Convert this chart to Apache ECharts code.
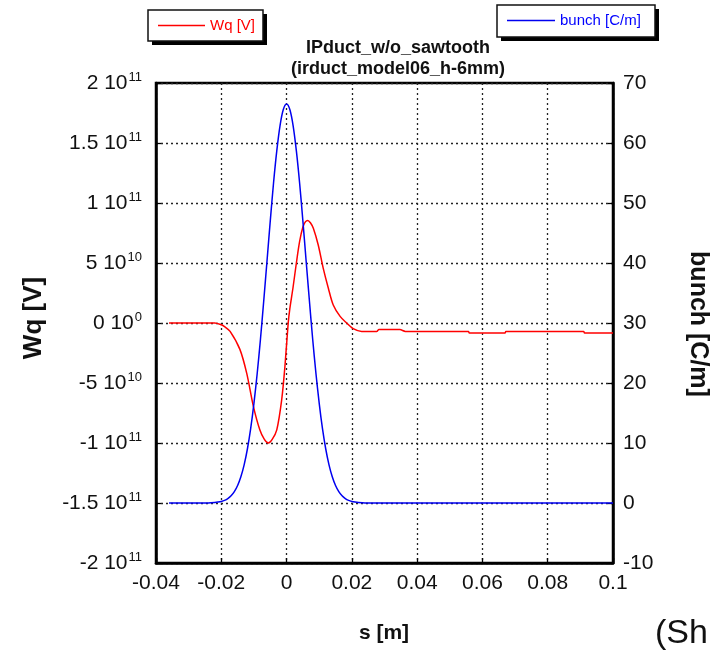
<!DOCTYPE html>
<html>
<head>
<meta charset="utf-8">
<script src="https://cdn.jsdelivr.net/npm/echarts@6/dist/echarts.min.js"></script>
<style>
html,body{margin:0;padding:0;background:#fff;}
#chart{width:718px;height:653px;}
</style>
</head>
<body>
<div id="chart"></div>
<script>
// ---- data ----
const seriesNames = ['Wq [V]', 'bunch [C/m]'];
// wake potential Wq [V] vs s [m]
const wqS = [-0.036, -0.022, -0.020, -0.019, -0.0173, -0.0143, -0.0122, -0.0102, -0.0082, -0.0068, -0.0056, -0.0044, -0.0030, -0.0015, -0.0005,
  0.0005, 0.0010, 0.0020, 0.0030, 0.0040, 0.0050, 0.0058, 0.0065, 0.0073, 0.0082, 0.0097, 0.0112, 0.0128, 0.0143, 0.0164, 0.0184, 0.0204,
  0.0230, 0.0276, 0.0283, 0.0347, 0.0364, 0.0557, 0.0560, 0.0669, 0.0672, 0.0910, 0.0913, 0.1000];
const wqV = [0, 0, -0.15e10, -0.3e10, -0.7e10, -2.2e10, -4.2e10, -6.9e10, -8.9e10, -9.7e10, -10.0e10, -9.7e10, -8.9e10, -6.4e10, -3.6e10,
  0, 1.2e10, 3.0e10, 5.0e10, 6.8e10, 8.0e10, 8.45e10, 8.55e10, 8.35e10, 7.9e10, 6.5e10, 4.6e10, 2.9e10, 1.5e10, 0.55e10, 0, -0.47e10,
  -0.7e10, -0.7e10, -0.55e10, -0.55e10, -0.7e10, -0.7e10, -0.83e10, -0.83e10, -0.7e10, -0.7e10, -0.83e10, -0.83e10];
// bunch line density [C/m] vs s [m]
const bunchS = [-0.036, -0.024, -0.022, -0.021, -0.020, -0.019, -0.018, -0.017, -0.016, -0.015, -0.014, -0.013, -0.012, -0.011, -0.010,
  -0.009, -0.008, -0.007, -0.006, -0.005, -0.004, -0.003, -0.002, -0.001, 0, 0.001, 0.002, 0.003, 0.004, 0.005, 0.006, 0.007, 0.008,
  0.009, 0.010, 0.011, 0.012, 0.013, 0.014, 0.015, 0.016, 0.017, 0.018, 0.019, 0.020, 0.021, 0.022, 0.024, 0.100];
const bunchV = [0, 0.02, 0.08, 0.15, 0.26, 0.44, 0.74, 1.20, 1.90, 2.92, 4.37, 6.36, 9.0, 12.38, 16.6,
  21.59, 27.3, 33.66, 40.3, 46.98, 53.3, 58.68, 62.9, 65.57, 66.49, 65.57, 62.9, 58.68, 53.3, 46.98, 40.3, 33.66, 27.3,
  21.59, 16.6, 12.38, 9.0, 6.36, 4.37, 2.92, 1.90, 1.20, 0.74, 0.44, 0.26, 0.15, 0.08, 0.02, 0];
// tick labels
const xTickLabels = ['-0.04', '-0.02', '0', '0.02', '0.04', '0.06', '0.08', '0.1'];
const wqTickMantissa = ['-2', '-1.5', '-1', '-5', '0', '5', '1', '1.5', '2'];
const wqTickExponent = ['11', '11', '11', '10', '0', '10', '11', '11', '11'];
const bunchTickLabels = ['-10', '0', '10', '20', '30', '40', '50', '60', '70'];
const titleLines = ['IPduct_w/o_sawtooth', '(irduct_model06_h-6mm)'];
const axisNames = { x: 's [m]', left: 'Wq [V]', right: 'bunch [C/m]' };
const cornerText = '(Sh';

// ---- chart ----
const FONT = '"Liberation Sans", Arial, Helvetica, sans-serif';
const chart = echarts.init(document.getElementById('chart'), null, { renderer: 'canvas' });
const xMin = -0.04, xMax = 0.1, xInt = 0.02;
const yMin = -2e11, yMax = 2e11, yInt = 5e10;
const y2Min = -10, y2Max = 70, y2Int = 10;

const gridDash = { color: '#222', width: 1.3, type: [2, 3] };
const legendCommon = {
  icon: 'rect', itemHeight: 1.5, backgroundColor: 'transparent', borderWidth: 0,
  selectedMode: false, z: 10
};
// legend frames (box + drop shadow)
function legendFrame(x, y, w, h) {
  return [
    { type: 'rect', z: 1, shape: { x: x + 4, y: y + 4, width: w, height: h }, style: { fill: '#000' } },
    { type: 'rect', z: 2, shape: { x: x, y: y, width: w, height: h }, style: { fill: '#fff', stroke: '#111', lineWidth: 1.5 } }
  ];
}

chart.setOption({
  animation: false,
  backgroundColor: '#fff',
  title: {
    text: titleLines.join('\n'),
    left: 393, top: 33, textAlign: 'center',
    textStyle: { fontFamily: FONT, fontSize: 18, fontWeight: 'bold', color: '#111', lineHeight: 21 }
  },
  legend: [
    Object.assign({}, legendCommon, {
      data: [seriesNames[0]], left: 148, top: 10, itemWidth: 47, padding: [8, 9, 8, 10],
      textStyle: { color: '#f00', fontSize: 15, fontFamily: FONT }
    }),
    Object.assign({}, legendCommon, {
      data: [seriesNames[1]], left: 497, top: 5, itemWidth: 48, padding: [8, 10, 8, 10],
      textStyle: { color: '#00f', fontSize: 15, fontFamily: FONT }
    })
  ],
  grid: { left: 156, right: 105, top: 83, bottom: 90, show: true, borderColor: '#000', borderWidth: 2.5, backgroundColor: 'transparent' },
  xAxis: {
    type: 'value', min: xMin, max: xMax, interval: xInt,
    axisLine: { show: true, onZero: false, lineStyle: { color: '#000', width: 2.5 } },
    axisTick: { show: true, inside: true, length: 5, lineStyle: { color: '#000', width: 1.3 } },
    splitLine: { show: true, lineStyle: gridDash },
    axisLabel: {
      margin: 10, fontSize: 21, color: '#111', fontFamily: FONT,
      formatter: (v) => xTickLabels[Math.round((v - xMin) / xInt)]
    }
  },
  yAxis: [
    {
      type: 'value', min: yMin, max: yMax, interval: yInt, position: 'left',
      axisLine: { show: true, onZero: false, lineStyle: { color: '#000', width: 2.5 } },
      axisTick: { show: true, inside: true, length: 5, lineStyle: { color: '#000', width: 1.3 } },
      splitLine: { show: true, lineStyle: gridDash },
      axisLabel: {
        margin: 14, color: '#111', fontFamily: FONT,
        formatter: (v) => {
          const i = Math.round((v - yMin) / yInt);
          return '{m|' + wqTickMantissa[i] + ' 10}{e|' + wqTickExponent[i] + '}';
        },
        rich: {
          m: { fontSize: 21, fontFamily: FONT, color: '#111', lineHeight: 24 },
          e: { fontSize: 13, fontFamily: FONT, color: '#111', lineHeight: 13, verticalAlign: 'top', padding: [0, 0, 0, 1] }
        }
      }
    },
    {
      type: 'value', min: y2Min, max: y2Max, interval: y2Int, position: 'right',
      axisLine: { show: true, onZero: false, lineStyle: { color: '#000', width: 2.5 } },
      axisTick: { show: true, inside: true, length: 5, lineStyle: { color: '#000', width: 1.3 } },
      splitLine: { show: false },
      axisLabel: {
        margin: 10, fontSize: 21, color: '#111', fontFamily: FONT,
        formatter: (v) => bunchTickLabels[Math.round((v - y2Min) / y2Int)]
      }
    }
  ],
  series: [
    {
      name: seriesNames[0], type: 'line', yAxisIndex: 0, symbol: 'none', smooth: 0.3,
      lineStyle: { color: '#f00', width: 1.5 }, itemStyle: { color: '#f00' },
      data: wqS.map((s, i) => [s, wqV[i]]), z: 3
    },
    {
      name: seriesNames[1], type: 'line', yAxisIndex: 1, symbol: 'none', smooth: 0.3,
      lineStyle: { color: '#0000f0', width: 1.5 }, itemStyle: { color: '#0000f0' },
      data: bunchS.map((s, i) => [s, bunchV[i]]), z: 4
    }
  ],
  graphic: [].concat(
    legendFrame(148, 10, 115, 31),
    legendFrame(497, 5, 158, 32),
    [
      { type: 'text', x: 384, y: 633, style: { text: axisNames.x, font: 'bold 21px ' + FONT, fill: '#111', textAlign: 'center', textVerticalAlign: 'middle' } },
      { type: 'text', x: 34, y: 318, rotation: Math.PI / 2, style: { text: axisNames.left, font: 'bold 26px ' + FONT, fill: '#111', textAlign: 'center', textVerticalAlign: 'middle' } },
      { type: 'text', x: 698, y: 324, rotation: -Math.PI / 2, style: { text: axisNames.right, font: 'bold 25px ' + FONT, fill: '#111', textAlign: 'center', textVerticalAlign: 'middle' } },
      { type: 'text', x: 655, y: 634, style: { text: cornerText, font: '34px ' + FONT, fill: '#111', textAlign: 'left', textVerticalAlign: 'middle' } }
    ]
  )
});
</script>
</body>
</html>
